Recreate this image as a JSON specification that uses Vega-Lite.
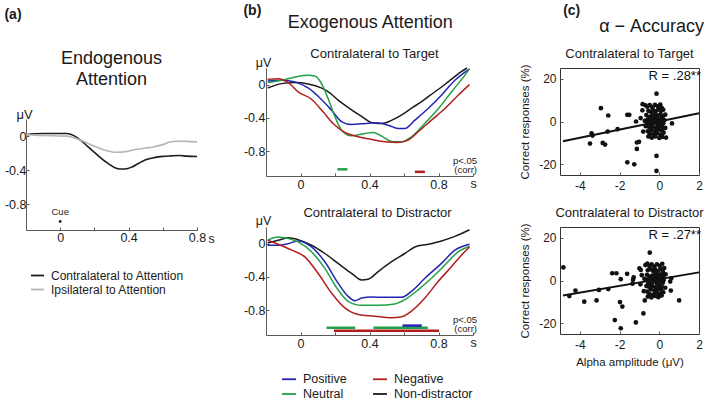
{
"$schema":"https://vega.github.io/schema/vega-lite/v6.json",
"padding":{"left":4,"top":4,"right":2,"bottom":1},
"config":{
 "font":"Liberation Sans",
 "view":{"stroke":null},
 "axis":{"grid":false,"labelFont":"Liberation Sans","labelFontSize":12.5,"labelColor":"#1a1a1a","domainColor":"#5a5a5a","tickColor":"#5a5a5a","tickSize":-3,"labelPadding":2,"titleFont":"Liberation Sans","titleFontWeight":"normal","titleColor":"#1a1a1a","labelFlush":false},
 "title":{"font":"Liberation Sans","fontWeight":"normal","color":"#1a1a1a"},
 "legend":{"labelFont":"Liberation Sans","labelColor":"#1a1a1a","padding":0}
},
"resolve":{"scale":{"color":"independent"}},
"spacing":42,
"hconcat":[
 {"spacing":28,"resolve":{"scale":{"color":"independent"}},"hconcat":[
  {"title":{"text":"(a)","anchor":"start","fontSize":14,"fontWeight":"bold","offset":28},
   "spacing":-19,"resolve":{"scale":{"color":"independent"}},
   "vconcat":[
    {"width":171,"height":1,"data":{"values":[]},"mark":"point"},
    {"width":171,"height":111,
     "title":{"text":["Endogenous","Attention"],"fontSize":18,"lineHeight":21,"anchor":"middle","frame":"group","offset":19},
     "layer":[
      {"data":{"values":[
        {"s":"Contralateral to Attention","t":-0.2,"v":0.015},{"s":"Contralateral to Attention","t":-0.15,"v":0.028},{"s":"Contralateral to Attention","t":-0.1,"v":0.03},{"s":"Contralateral to Attention","t":-0.05,"v":0.03},{"s":"Contralateral to Attention","t":0.0,"v":0.03},{"s":"Contralateral to Attention","t":0.04,"v":0.03},{"s":"Contralateral to Attention","t":0.08,"v":0.005},{"s":"Contralateral to Attention","t":0.12,"v":-0.05},{"s":"Contralateral to Attention","t":0.16,"v":-0.12},{"s":"Contralateral to Attention","t":0.2,"v":-0.19},{"s":"Contralateral to Attention","t":0.24,"v":-0.26},{"s":"Contralateral to Attention","t":0.28,"v":-0.32},{"s":"Contralateral to Attention","t":0.32,"v":-0.37},{"s":"Contralateral to Attention","t":0.35,"v":-0.385},{"s":"Contralateral to Attention","t":0.38,"v":-0.385},{"s":"Contralateral to Attention","t":0.42,"v":-0.362},{"s":"Contralateral to Attention","t":0.46,"v":-0.318},{"s":"Contralateral to Attention","t":0.5,"v":-0.278},{"s":"Contralateral to Attention","t":0.55,"v":-0.252},{"s":"Contralateral to Attention","t":0.6,"v":-0.238},{"s":"Contralateral to Attention","t":0.65,"v":-0.232},{"s":"Contralateral to Attention","t":0.7,"v":-0.228},{"s":"Contralateral to Attention","t":0.74,"v":-0.235},{"s":"Contralateral to Attention","t":0.8,"v":-0.24},
        {"s":"Ipsilateral to Attention","t":-0.2,"v":0.015},{"s":"Ipsilateral to Attention","t":-0.12,"v":0.008},{"s":"Ipsilateral to Attention","t":-0.05,"v":0.003},{"s":"Ipsilateral to Attention","t":0.04,"v":0.0},{"s":"Ipsilateral to Attention","t":0.08,"v":-0.02},{"s":"Ipsilateral to Attention","t":0.12,"v":-0.05},{"s":"Ipsilateral to Attention","t":0.16,"v":-0.085},{"s":"Ipsilateral to Attention","t":0.2,"v":-0.12},{"s":"Ipsilateral to Attention","t":0.24,"v":-0.15},{"s":"Ipsilateral to Attention","t":0.28,"v":-0.175},{"s":"Ipsilateral to Attention","t":0.32,"v":-0.19},{"s":"Ipsilateral to Attention","t":0.36,"v":-0.188},{"s":"Ipsilateral to Attention","t":0.4,"v":-0.175},{"s":"Ipsilateral to Attention","t":0.45,"v":-0.155},{"s":"Ipsilateral to Attention","t":0.5,"v":-0.14},{"s":"Ipsilateral to Attention","t":0.55,"v":-0.125},{"s":"Ipsilateral to Attention","t":0.6,"v":-0.1},{"s":"Ipsilateral to Attention","t":0.64,"v":-0.07},{"s":"Ipsilateral to Attention","t":0.68,"v":-0.06},{"s":"Ipsilateral to Attention","t":0.74,"v":-0.062},{"s":"Ipsilateral to Attention","t":0.8,"v":-0.07}
       ]},
       "mark":{"type":"line","interpolate":"monotone","strokeWidth":1.6},
       "encoding":{
        "x":{"field":"t","type":"quantitative","title":"s","scale":{"domain":[-0.2,0.8],"nice":false,"zero":false},
             "axis":{"values":[0,0.2,0.4,0.6,0.8],"labelOverlap":false,"labelPadding":4,"labelExpr":"datum.value == 0 ? '0' : datum.value == 0.4 ? '0.4' : datum.value == 0.8 ? '0.8' : ''","titleX":185,"titleY":12,"titleAlign":"center","titleBaseline":"alphabetic","titleFontSize":12.5}},
        "y":{"field":"v","type":"quantitative","title":"μV","scale":{"domain":[-1.1,0.2],"nice":false,"zero":false},
             "axis":{"values":[-0.8,-0.6,-0.4,-0.2,0],"labelOverlap":false,"labelPadding":3,"labelExpr":"datum.value == 0 ? '0' : datum.value == -0.4 ? '-0.4' : datum.value == -0.8 ? '-0.8' : ''","titleAngle":0,"titleAlign":"center","titleBaseline":"alphabetic","titleX":-2,"titleY":-1,"titleFontSize":13}},
        "color":{"field":"s","type":"nominal","scale":{"domain":["Contralateral to Attention","Ipsilateral to Attention"],"range":["#1c1c1c","#b5b5b5"]},
           "legend":{"title":null,"orient":"none","legendX":4,"legendY":149,"symbolType":"stroke","symbolSize":169,"symbolStrokeWidth":1.8,"labelFontSize":12,"labelOffset":6,"rowPadding":-3}}
       }},
      {"data":{"values":[{"t":0,"v":-1.0,"label":"Cue"}]},
       "layer":[
        {"mark":{"type":"point","filled":true,"size":8,"color":"#1c1c1c","opacity":1},"encoding":{"x":{"field":"t","type":"quantitative"},"y":{"field":"v","type":"quantitative"}}},
        {"mark":{"type":"text","dy":-9,"fontSize":9.5,"color":"#1c1c1c"},"encoding":{"x":{"field":"t","type":"quantitative"},"y":{"field":"v","type":"quantitative"},"text":{"field":"label"}}}
       ]}
     ]}
   ]},
  {"title":{"text":"(b)","anchor":"start","fontSize":14,"fontWeight":"bold","offset":-4},
   "vconcat":[
    {"title":{"text":"Exogenous Attention","fontSize":18,"anchor":"middle","offset":16,"dx":10},"spacing":16,"resolve":{"scale":{"color":"independent"}},
     "vconcat":[
      {"width":207,"height":108,
       "title":{"text":"Contralateral to Target","fontSize":13,"anchor":"middle","frame":"group","dx":5,"offset":-5},
       "layer":[
        {"data":{"values":[
          {"c":"Non-distractor","t":-0.19,"v":-0.04},{"c":"Non-distractor","t":-0.11,"v":0.012},{"c":"Non-distractor","t":-0.03,"v":0.024},{"c":"Non-distractor","t":0.044,"v":0.008},{"c":"Non-distractor","t":0.12,"v":-0.04},{"c":"Non-distractor","t":0.17,"v":-0.1},{"c":"Non-distractor","t":0.22,"v":-0.19},{"c":"Non-distractor","t":0.27,"v":-0.265},{"c":"Non-distractor","t":0.315,"v":-0.33},{"c":"Non-distractor","t":0.36,"v":-0.39},{"c":"Non-distractor","t":0.41,"v":-0.456},{"c":"Non-distractor","t":0.46,"v":-0.468},{"c":"Non-distractor","t":0.5,"v":-0.455},{"c":"Non-distractor","t":0.53,"v":-0.428},{"c":"Non-distractor","t":0.57,"v":-0.385},{"c":"Non-distractor","t":0.605,"v":-0.34},{"c":"Non-distractor","t":0.65,"v":-0.275},{"c":"Non-distractor","t":0.7,"v":-0.208},{"c":"Non-distractor","t":0.75,"v":-0.13},{"c":"Non-distractor","t":0.8,"v":-0.056},{"c":"Non-distractor","t":0.86,"v":0.04},{"c":"Non-distractor","t":0.93,"v":0.152},{"c":"Non-distractor","t":0.965,"v":0.2},
          {"c":"Positive","t":-0.19,"v":0.044},{"c":"Positive","t":-0.11,"v":0.052},{"c":"Positive","t":-0.03,"v":0.032},{"c":"Positive","t":0.044,"v":-0.04},{"c":"Positive","t":0.12,"v":-0.176},{"c":"Positive","t":0.18,"v":-0.308},{"c":"Positive","t":0.24,"v":-0.448},{"c":"Positive","t":0.296,"v":-0.48},{"c":"Positive","t":0.354,"v":-0.472},{"c":"Positive","t":0.43,"v":-0.46},{"c":"Positive","t":0.508,"v":-0.488},{"c":"Positive","t":0.566,"v":-0.528},{"c":"Positive","t":0.605,"v":-0.528},{"c":"Positive","t":0.663,"v":-0.428},{"c":"Positive","t":0.74,"v":-0.288},{"c":"Positive","t":0.817,"v":-0.128},{"c":"Positive","t":0.895,"v":0.052},{"c":"Positive","t":0.98,"v":0.19},
          {"c":"Neutral","t":-0.19,"v":0.024},{"c":"Neutral","t":-0.11,"v":0.052},{"c":"Neutral","t":-0.03,"v":0.092},{"c":"Neutral","t":0.044,"v":0.112},{"c":"Neutral","t":0.083,"v":0.104},{"c":"Neutral","t":0.122,"v":0.012},{"c":"Neutral","t":0.16,"v":-0.168},{"c":"Neutral","t":0.2,"v":-0.388},{"c":"Neutral","t":0.238,"v":-0.548},{"c":"Neutral","t":0.296,"v":-0.616},{"c":"Neutral","t":0.373,"v":-0.588},{"c":"Neutral","t":0.421,"v":-0.576},{"c":"Neutral","t":0.47,"v":-0.62},{"c":"Neutral","t":0.537,"v":-0.688},{"c":"Neutral","t":0.585,"v":-0.688},{"c":"Neutral","t":0.643,"v":-0.628},{"c":"Neutral","t":0.72,"v":-0.468},{"c":"Neutral","t":0.8,"v":-0.288},{"c":"Neutral","t":0.875,"v":-0.088},{"c":"Neutral","t":0.933,"v":0.06},{"c":"Neutral","t":0.98,"v":0.19},
          {"c":"Negative","t":-0.19,"v":0.064},{"c":"Negative","t":-0.13,"v":0.072},{"c":"Negative","t":-0.07,"v":0.024},{"c":"Negative","t":-0.014,"v":-0.088},{"c":"Negative","t":0.064,"v":-0.176},{"c":"Negative","t":0.131,"v":-0.328},{"c":"Negative","t":0.189,"v":-0.468},{"c":"Negative","t":0.257,"v":-0.576},{"c":"Negative","t":0.334,"v":-0.628},{"c":"Negative","t":0.412,"v":-0.66},{"c":"Negative","t":0.489,"v":-0.688},{"c":"Negative","t":0.566,"v":-0.696},{"c":"Negative","t":0.624,"v":-0.668},{"c":"Negative","t":0.682,"v":-0.568},{"c":"Negative","t":0.759,"v":-0.428},{"c":"Negative","t":0.837,"v":-0.288},{"c":"Negative","t":0.914,"v":-0.128},{"c":"Negative","t":0.98,"v":0.0}
         ]},
         "mark":{"type":"line","interpolate":"monotone","strokeWidth":1.5},
         "encoding":{
          "x":{"field":"t","type":"quantitative","title":"s","scale":{"domain":[-0.2,1.0],"nice":false,"zero":false},
               "axis":{"values":[0,0.2,0.4,0.6,0.8,1.0],"labelOverlap":false,"labelPadding":5,"labelExpr":"datum.value == 0 ? '0' : datum.value == 0.4 ? '0.4' : datum.value == 0.8 ? '0.8' : ''","titleX":207,"titleY":11,"titleAlign":"center","titleBaseline":"alphabetic","titleFontSize":12.5}},
          "y":{"field":"v","type":"quantitative","title":"μV","scale":{"domain":[-1.1,0.2],"nice":false,"zero":false},
               "axis":{"values":[-0.8,-0.6,-0.4,-0.2,0],"labelOverlap":false,"labelPadding":4,"labelExpr":"datum.value == 0 ? '0' : datum.value == -0.4 ? '-0.4' : datum.value == -0.8 ? '-0.8' : ''","titleAngle":0,"titleAlign":"center","titleBaseline":"alphabetic","titleX":-3,"titleY":-2,"titleFontSize":12.5}},
          "color":{"field":"c","type":"nominal","scale":{"domain":["Positive","Neutral","Negative","Non-distractor"],"range":["#2424b4","#21a047","#b21e1e","#1c1c1c"]},"legend":null}
         }},
        {"data":{"values":[{"c":"Neutral","t":0.214,"t2":0.272,"v":-1.02},{"c":"Negative","t":0.663,"t2":0.721,"v":-1.05}]},
         "mark":{"type":"rule","strokeWidth":2.5},
         "encoding":{"x":{"field":"t","type":"quantitative"},"x2":{"field":"t2"},"y":{"field":"v","type":"quantitative"},"color":{"field":"c","type":"nominal","legend":null}}},
        {"data":{"values":[{"t":1.0,"v":-0.924,"label":"p<.05\n(corr)"}]},
         "mark":{"type":"text","align":"right","dx":4,"fontSize":9.5,"lineHeight":9,"lineBreak":"\n","baseline":"middle","color":"#1c1c1c"},
         "encoding":{"x":{"field":"t","type":"quantitative"},"y":{"field":"v","type":"quantitative"},"text":{"field":"label"}}}
       ]},
      {"width":207,"height":108,
       "title":{"text":"Contralateral to Distractor","fontSize":13,"anchor":"middle","frame":"group","dx":8,"offset":-6},
       "layer":[
        {"data":{"values":[
          {"c":"Non-distractor","t":-0.19,"v":0.008},{"c":"Non-distractor","t":-0.13,"v":0.04},{"c":"Non-distractor","t":-0.07,"v":0.071},{"c":"Non-distractor","t":-0.014,"v":0.048},{"c":"Non-distractor","t":0.064,"v":-0.02},{"c":"Non-distractor","t":0.141,"v":-0.119},{"c":"Non-distractor","t":0.218,"v":-0.238},{"c":"Non-distractor","t":0.296,"v":-0.357},{"c":"Non-distractor","t":0.354,"v":-0.437},{"c":"Non-distractor","t":0.392,"v":-0.429},{"c":"Non-distractor","t":0.45,"v":-0.337},{"c":"Non-distractor","t":0.528,"v":-0.218},{"c":"Non-distractor","t":0.605,"v":-0.119},{"c":"Non-distractor","t":0.663,"v":-0.04},{"c":"Non-distractor","t":0.74,"v":-0.008},{"c":"Non-distractor","t":0.817,"v":0.032},{"c":"Non-distractor","t":0.895,"v":0.087},{"c":"Non-distractor","t":0.98,"v":0.167},
          {"c":"Positive","t":-0.19,"v":-0.02},{"c":"Positive","t":-0.13,"v":-0.02},{"c":"Positive","t":-0.07,"v":0.0},{"c":"Positive","t":-0.014,"v":0.032},{"c":"Positive","t":0.064,"v":-0.04},{"c":"Positive","t":0.141,"v":-0.218},{"c":"Positive","t":0.218,"v":-0.476},{"c":"Positive","t":0.276,"v":-0.635},{"c":"Positive","t":0.315,"v":-0.687},{"c":"Positive","t":0.354,"v":-0.655},{"c":"Positive","t":0.412,"v":-0.643},{"c":"Positive","t":0.489,"v":-0.647},{"c":"Positive","t":0.586,"v":-0.647},{"c":"Positive","t":0.643,"v":-0.575},{"c":"Positive","t":0.721,"v":-0.417},{"c":"Positive","t":0.817,"v":-0.238},{"c":"Positive","t":0.895,"v":-0.079},{"c":"Positive","t":0.98,"v":-0.008},
          {"c":"Neutral","t":-0.19,"v":0.04},{"c":"Neutral","t":-0.13,"v":0.079},{"c":"Neutral","t":-0.07,"v":0.06},{"c":"Neutral","t":-0.014,"v":0.02},{"c":"Neutral","t":0.064,"v":-0.099},{"c":"Neutral","t":0.141,"v":-0.298},{"c":"Neutral","t":0.218,"v":-0.556},{"c":"Neutral","t":0.276,"v":-0.694},{"c":"Neutral","t":0.354,"v":-0.742},{"c":"Neutral","t":0.45,"v":-0.742},{"c":"Neutral","t":0.547,"v":-0.726},{"c":"Neutral","t":0.605,"v":-0.675},{"c":"Neutral","t":0.682,"v":-0.556},{"c":"Neutral","t":0.759,"v":-0.417},{"c":"Neutral","t":0.837,"v":-0.258},{"c":"Neutral","t":0.914,"v":-0.099},{"c":"Neutral","t":0.98,"v":-0.032},
          {"c":"Negative","t":-0.19,"v":0.04},{"c":"Negative","t":-0.13,"v":-0.008},{"c":"Negative","t":-0.05,"v":-0.079},{"c":"Negative","t":0.025,"v":-0.159},{"c":"Negative","t":0.102,"v":-0.357},{"c":"Negative","t":0.18,"v":-0.595},{"c":"Negative","t":0.257,"v":-0.774},{"c":"Negative","t":0.334,"v":-0.853},{"c":"Negative","t":0.431,"v":-0.873},{"c":"Negative","t":0.528,"v":-0.893},{"c":"Negative","t":0.586,"v":-0.881},{"c":"Negative","t":0.643,"v":-0.813},{"c":"Negative","t":0.721,"v":-0.655},{"c":"Negative","t":0.798,"v":-0.456},{"c":"Negative","t":0.875,"v":-0.278},{"c":"Negative","t":0.933,"v":-0.139},{"c":"Negative","t":0.98,"v":-0.04}
         ]},
         "mark":{"type":"line","interpolate":"monotone","strokeWidth":1.5},
         "encoding":{
          "x":{"field":"t","type":"quantitative","title":"s","scale":{"domain":[-0.2,1.0],"nice":false,"zero":false},
               "axis":{"values":[0,0.2,0.4,0.6,0.8,1.0],"labelOverlap":false,"labelPadding":5,"labelExpr":"datum.value == 0 ? '0' : datum.value == 0.4 ? '0.4' : datum.value == 0.8 ? '0.8' : ''","titleX":207,"titleY":11,"titleAlign":"center","titleBaseline":"alphabetic","titleFontSize":12.5}},
          "y":{"field":"v","type":"quantitative","title":"μV","scale":{"domain":[-1.1,0.2],"nice":false,"zero":false},
               "axis":{"values":[-0.8,-0.6,-0.4,-0.2,0],"labelOverlap":false,"labelPadding":4,"labelExpr":"datum.value == 0 ? '0' : datum.value == -0.4 ? '-0.4' : datum.value == -0.8 ? '-0.8' : ''","titleAngle":0,"titleAlign":"center","titleBaseline":"alphabetic","titleX":-3,"titleY":-3,"titleFontSize":12.5}},
          "color":{"field":"c","type":"nominal","scale":{"domain":["Positive","Neutral","Negative","Non-distractor"],"range":["#2424b4","#21a047","#b21e1e","#1c1c1c"]},
             "legend":{"title":null,"orient":"none","legendX":15,"legendY":144,"columns":2,"symbolType":"stroke","symbolSize":196,"symbolStrokeWidth":1.8,"labelFontSize":12.5,"labelOffset":6,"columnPadding":22,"rowPadding":0}}
         }},
        {"data":{"values":[{"c":"Neutral","t":0.151,"t2":0.317,"v":-1.013},{"c":"Neutral","t":0.423,"t2":0.738,"v":-1.013},{"c":"Positive","t":0.591,"t2":0.703,"v":-0.987},{"c":"Negative","t":0.194,"t2":0.803,"v":-1.05}]},
         "mark":{"type":"rule","strokeWidth":2.5},
         "encoding":{"x":{"field":"t","type":"quantitative"},"x2":{"field":"t2"},"y":{"field":"v","type":"quantitative"},"color":{"field":"c","type":"nominal","legend":null}}},
        {"data":{"values":[{"t":1.0,"v":-0.924,"label":"p<.05\n(corr)"}]},
         "mark":{"type":"text","align":"right","dx":4,"fontSize":9.5,"lineHeight":9,"lineBreak":"\n","baseline":"middle","color":"#1c1c1c"},
         "encoding":{"x":{"field":"t","type":"quantitative"},"y":{"field":"v","type":"quantitative"},"text":{"field":"label"}}}
       ]}
     ]}
   ]}
 ]},
 {"title":{"text":"(c)","anchor":"start","fontSize":14,"fontWeight":"bold","offset":0,"dx":44},
  "vconcat":[
   {"title":{"text":"α − Accuracy","fontSize":18,"anchor":"middle","offset":11,"dx":40},"spacing":14,
    "vconcat":[
     {"width":139,"height":107,
      "view":{"stroke":"#333","strokeWidth":1},
      "title":{"text":"Contralateral to Target","fontSize":13,"anchor":"middle","frame":"group","offset":3},
      "layer":[
       {"data":{"values":[
         {"a":-2.94,"r":6.25},{"a":-2.57,"r":2.8},{"a":-1.61,"r":3.1},{"a":-1.51,"r":3.1},{"a":-3.41,"r":-5.5},{"a":-3.36,"r":-6.6},{"a":-3.49,"r":-10.3},{"a":-2.85,"r":-10.0},{"a":-2.73,"r":-10.8},{"a":-2.6,"r":-4.7},{"a":-2.1,"r":-3.6},{"a":-1.17,"r":0.0},{"a":-1.13,"r":-9.8},{"a":-1.02,"r":-9.5},{"a":-1.13,"r":-12.8},{"a":-1.61,"r":-19.1},{"a":-1.26,"r":-20.0},{"a":-0.14,"r":-16.1},{"a":-0.14,"r":-23.1},{"a":0.64,"r":-0.9},{"a":0.34,"r":-7.5},{"a":-0.14,"r":13.0},{"a":-0.84,"r":8.1},
         {"a":-0.81,"r":-4.7},{"a":-0.94,"r":1.6},{"a":-0.73,"r":0.3},{"a":-0.85,"r":5.2},{"a":-0.7,"r":7.6},{"a":-0.6,"r":6.9},{"a":-0.48,"r":7.7},{"a":-0.35,"r":6.6},{"a":-0.22,"r":7.8},{"a":-0.08,"r":7.1},{"a":0.05,"r":7.9},{"a":0.12,"r":6.4},{"a":-0.55,"r":5.0},{"a":-0.42,"r":4.5},{"a":-0.3,"r":5.2},{"a":-0.18,"r":4.8},{"a":-0.05,"r":5.6},{"a":0.08,"r":4.9},{"a":0.2,"r":5.5},{"a":0.3,"r":3.2},{"a":0.18,"r":2.6},{"a":0.05,"r":3.1},{"a":-0.1,"r":2.9},{"a":-0.25,"r":3.4},{"a":-0.38,"r":2.6},{"a":-0.52,"r":2.1},{"a":-0.65,"r":3.0},{"a":-0.6,"r":0.8},{"a":-0.45,"r":0.5},{"a":-0.32,"r":1.2},{"a":-0.2,"r":1.7},{"a":-0.05,"r":1.0},{"a":0.1,"r":1.4},{"a":0.25,"r":0.6},{"a":0.2,"r":-0.8},{"a":0.05,"r":-0.5},{"a":-0.1,"r":-1.2},{"a":-0.28,"r":-0.6},{"a":-0.42,"r":-1.5},{"a":-0.58,"r":-1.0},{"a":-0.68,"r":-2.2},{"a":-0.5,"r":-2.8},{"a":-0.35,"r":-2.4},{"a":-0.18,"r":-2.9},{"a":0.0,"r":-2.1},{"a":0.15,"r":-2.6},{"a":0.3,"r":-3.0},{"a":0.12,"r":-4.1},{"a":-0.05,"r":-3.8},{"a":-0.22,"r":-4.5},{"a":-0.4,"r":-4.0},{"a":-0.58,"r":-4.6},{"a":-0.48,"r":-5.8},{"a":-0.3,"r":-6.0},{"a":-0.12,"r":-5.5},{"a":0.05,"r":-6.1},{"a":0.22,"r":-5.2},{"a":-0.55,"r":-7.0},{"a":-0.38,"r":-7.6},{"a":-0.2,"r":-7.0},{"a":0.0,"r":-7.7},{"a":0.15,"r":-7.2},{"a":-0.1,"r":0.2},{"a":-0.3,"r":-0.1}
        ]},
        "mark":{"type":"circle","size":22,"color":"#111","opacity":1},
        "encoding":{
         "x":{"field":"a","type":"quantitative","title":null,"scale":{"domain":[-5,2],"nice":false,"zero":false},
              "axis":{"values":[-4,-3,-2,-1,0,1,2],"labelOverlap":false,"labelExpr":"datum.value % 2 == 0 ? datum.value + '' : ''","domain":false,"labelFontSize":12,"labelPadding":8}},
         "y":{"field":"r","type":"quantitative","title":"Correct responses (%)","scale":{"domain":[-25,25],"nice":false,"zero":false},
              "axis":{"values":[-20,-10,0,10,20],"labelOverlap":false,"labelExpr":"datum.value % 20 == 0 ? datum.value + '' : ''","domain":false,"titleFontSize":11.5,"titlePadding":8,"labelFontSize":12,"labelPadding":7}}
        }},
       {"data":{"values":[{"a":-4.85,"r":-9.2},{"a":2,"r":3.9}]},
        "mark":{"type":"line","color":"#111","strokeWidth":2},
        "encoding":{"x":{"field":"a","type":"quantitative"},"y":{"field":"r","type":"quantitative"}}},
       {"data":{"values":[{"a":2,"r":21.1,"label":"R = .28**"}]},
        "mark":{"type":"text","align":"right","dx":2,"fontSize":13,"baseline":"middle","color":"#111"},
        "encoding":{"x":{"field":"a","type":"quantitative"},"y":{"field":"r","type":"quantitative"},"text":{"field":"label"}}}
      ]},
     {"width":139,"height":107,
      "view":{"stroke":"#333","strokeWidth":1},
      "title":{"text":"Contralateral to Distractor","fontSize":13,"anchor":"middle","frame":"group","offset":3},
      "layer":[
       {"data":{"values":[
         {"a":-4.83,"r":6.1},{"a":-4.53,"r":-7.3},{"a":-4.22,"r":-4.7},{"a":-3.78,"r":-9.9},{"a":-3.16,"r":-9.3},{"a":-3.04,"r":-4.4},{"a":-2.57,"r":-4.0},{"a":-2.37,"r":3.4},{"a":-2.16,"r":3.4},{"a":-1.94,"r":0.6},{"a":-1.98,"r":-10.1},{"a":-1.86,"r":-12.2},{"a":-2.24,"r":-18.5},{"a":-1.94,"r":-22.3},{"a":-1.62,"r":3.1},{"a":-1.32,"r":0.3},{"a":-1.29,"r":1.5},{"a":-1.35,"r":-1.5},{"a":-1.18,"r":-19.6},{"a":-1.0,"r":5.7},{"a":-0.93,"r":4.9},{"a":-0.78,"r":-5.0},{"a":-0.73,"r":-9.3},{"a":-0.8,"r":-15.4},{"a":-0.48,"r":13.0},{"a":0.58,"r":-4.7},{"a":1.0,"r":-9.3},{"a":0.55,"r":-0.5},{"a":0.6,"r":1.0},
         {"a":-0.95,"r":-1.8},{"a":-0.88,"r":2.5},{"a":-0.75,"r":0.8},{"a":-0.7,"r":7.2},{"a":-0.6,"r":7.9},{"a":-0.5,"r":6.8},{"a":-0.38,"r":7.5},{"a":-0.25,"r":6.4},{"a":-0.12,"r":7.6},{"a":0.02,"r":6.9},{"a":0.15,"r":7.8},{"a":0.25,"r":5.8},{"a":-0.58,"r":4.8},{"a":-0.45,"r":5.3},{"a":-0.32,"r":4.6},{"a":-0.2,"r":5.1},{"a":-0.08,"r":4.3},{"a":0.06,"r":5.4},{"a":0.18,"r":4.0},{"a":0.32,"r":2.9},{"a":0.2,"r":2.2},{"a":0.06,"r":2.8},{"a":-0.08,"r":2.4},{"a":-0.22,"r":3.1},{"a":-0.35,"r":2.3},{"a":-0.5,"r":1.8},{"a":-0.62,"r":2.7},{"a":-0.62,"r":0.4},{"a":-0.48,"r":0.0},{"a":-0.35,"r":1.0},{"a":-0.22,"r":1.5},{"a":-0.08,"r":0.6},{"a":0.08,"r":1.1},{"a":0.22,"r":0.2},{"a":0.18,"r":-1.1},{"a":0.04,"r":-0.6},{"a":-0.12,"r":-1.4},{"a":-0.28,"r":-0.5},{"a":-0.42,"r":-1.8},{"a":-0.56,"r":-1.2},{"a":-0.65,"r":-2.6},{"a":-0.5,"r":-3.0},{"a":-0.35,"r":-2.6},{"a":-0.2,"r":-3.2},{"a":-0.02,"r":-2.3},{"a":0.12,"r":-2.8},{"a":0.3,"r":-3.4},{"a":0.1,"r":-4.4},{"a":-0.06,"r":-4.0},{"a":-0.24,"r":-4.8},{"a":-0.42,"r":-4.2},{"a":-0.6,"r":-5.2},{"a":-0.5,"r":-6.3},{"a":-0.3,"r":-6.6},{"a":-0.12,"r":-5.8},{"a":0.05,"r":-6.4},{"a":0.2,"r":-5.5},{"a":-0.58,"r":-7.5},{"a":-0.4,"r":-7.9},{"a":-0.22,"r":-7.2},{"a":-0.05,"r":-7.8},{"a":0.12,"r":-7.0},{"a":-0.15,"r":0.1}
        ]},
        "mark":{"type":"circle","size":22,"color":"#111","opacity":1},
        "encoding":{
         "x":{"field":"a","type":"quantitative","title":"Alpha amplitude (μV)","scale":{"domain":[-5,2],"nice":false,"zero":false},
              "axis":{"values":[-4,-3,-2,-1,0,1,2],"labelOverlap":false,"labelExpr":"datum.value % 2 == 0 ? datum.value + '' : ''","domain":false,"labelFontSize":12,"labelPadding":8,"titleFontSize":11.5,"titlePadding":6}},
         "y":{"field":"r","type":"quantitative","title":"Correct responses (%)","scale":{"domain":[-25,25],"nice":false,"zero":false},
              "axis":{"values":[-20,-10,0,10,20],"labelOverlap":false,"labelExpr":"datum.value % 20 == 0 ? datum.value + '' : ''","domain":false,"titleFontSize":11.5,"titlePadding":8,"labelFontSize":12,"labelPadding":7}}
        }},
       {"data":{"values":[{"a":-4.85,"r":-7.0},{"a":2,"r":3.8}]},
        "mark":{"type":"line","color":"#111","strokeWidth":2},
        "encoding":{"x":{"field":"a","type":"quantitative"},"y":{"field":"r","type":"quantitative"}}},
       {"data":{"values":[{"a":2,"r":21.1,"label":"R = .27**"}]},
        "mark":{"type":"text","align":"right","dx":2,"fontSize":13,"baseline":"middle","color":"#111"},
        "encoding":{"x":{"field":"a","type":"quantitative"},"y":{"field":"r","type":"quantitative"},"text":{"field":"label"}}}
      ]}
    ]}
  ]}
]
}
